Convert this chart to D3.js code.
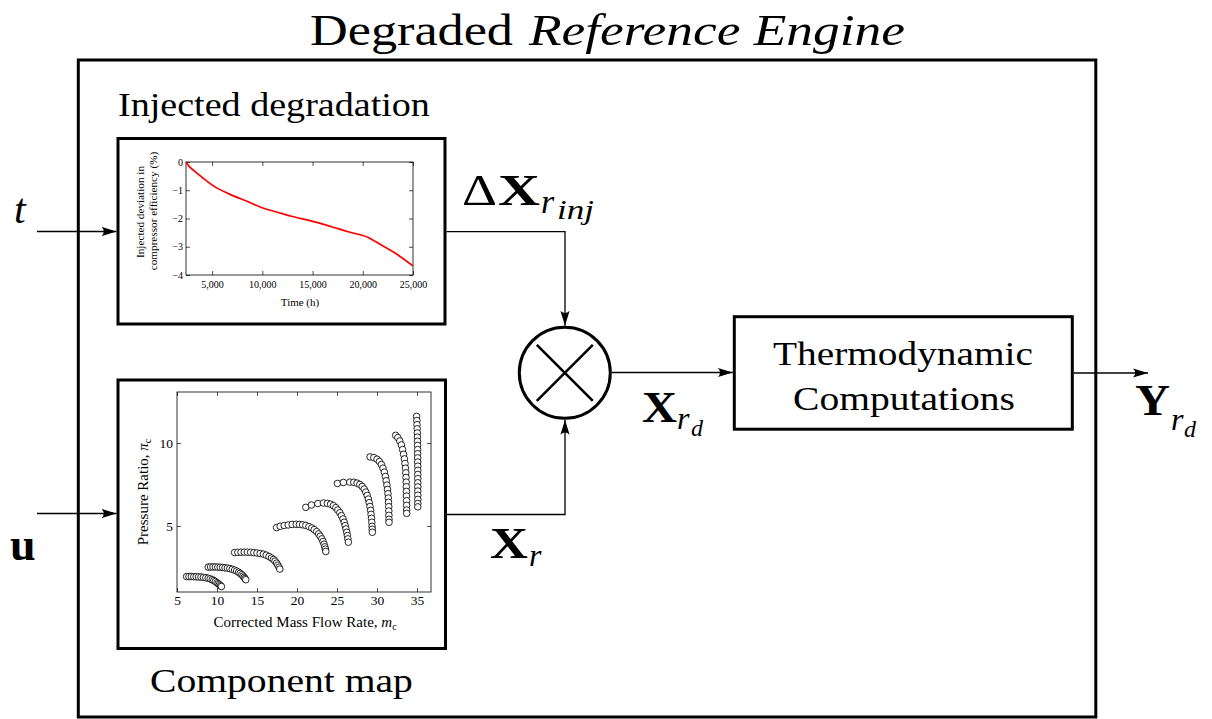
<!DOCTYPE html>
<html>
<head>
<meta charset="utf-8">
<script src="https://cdn.jsdelivr.net/npm/d3@7"></script>
<style>
  body { margin: 0; background: #fff; }
</style>
</head>
<body>
<svg width="1212" height="719"></svg>
<script>
// injected degradation curve (top inset)
var degTime  = [2400, 2630, 3130, 3960, 5280, 6610, 8600, 9920, 11910, 12900, 15220, 16880, 18540, 20530, 21850, 23510, 25000];
var degValue = [0, -0.12, -0.29, -0.53, -0.88, -1.12, -1.41, -1.61, -1.82, -1.92, -2.12, -2.29, -2.47, -2.67, -2.94, -3.29, -3.68];
var degXTicks = [5000, 10000, 15000, 20000, 25000];
var degYTicks = [0, -1, -2, -3, -4];

// component map, one array per speed line: [corrected mass flow, pressure ratio]
var speed1 = [[6.2,1.95],[6.5,1.95],[6.8,1.95],[7.1,1.94],[7.4,1.94],[7.7,1.93],[8.0,1.92],[8.3,1.9],[8.6,1.88],[8.9,1.85],[9.15,1.81],[9.4,1.76],[9.6,1.71],[9.8,1.65],[10.0,1.58],[10.15,1.52],[10.3,1.46],[10.45,1.4],[10.55,1.35]];
var speed2 = [[8.9,2.52],[9.2,2.53],[9.5,2.53],[9.8,2.53],[10.1,2.52],[10.4,2.51],[10.7,2.5],[11.0,2.48],[11.3,2.46],[11.6,2.43],[11.9,2.39],[12.2,2.34],[12.45,2.28],[12.7,2.21],[12.9,2.14],[13.1,2.06],[13.25,1.98],[13.4,1.9],[13.5,1.83],[13.6,1.76]];
var speed3 = [[12.2,3.4],[12.6,3.41],[13.0,3.42],[13.4,3.42],[13.8,3.42],[14.2,3.41],[14.6,3.39],[15.0,3.37],[15.4,3.34],[15.8,3.3],[16.15,3.24],[16.5,3.16],[16.8,3.07],[17.05,2.98],[17.25,2.88],[17.45,2.76],[17.6,2.64],[17.75,2.52],[17.85,2.4]];
var speed4 = [[17.45,4.9],[17.9,4.98],[18.4,5.03],[18.9,5.06],[19.4,5.09],[19.9,5.1],[20.3,5.09],[20.7,5.07],[21.1,5.03],[21.5,4.96],[21.85,4.88],[22.15,4.78],[22.45,4.66],[22.7,4.52],[22.9,4.38],[23.1,4.22],[23.25,4.06],[23.38,3.9],[23.48,3.74],[23.55,3.6],[23.6,3.46]];
var speed5 = [[21.1,6.12],[21.8,6.26],[22.6,6.35],[23.3,6.38],[23.8,6.36],[24.2,6.31],[24.55,6.22],[24.85,6.1],[25.1,5.96],[25.35,5.8],[25.55,5.62],[25.75,5.42],[25.9,5.22],[26.02,5.02],[26.12,4.82],[26.22,4.62],[26.3,4.42],[26.36,4.22],[26.42,4.02]];
var speed6 = [[25.05,7.56],[25.8,7.62],[26.6,7.64],[27.1,7.63],[27.5,7.58],[27.85,7.5],[28.15,7.38],[28.4,7.22],[28.6,7.04],[28.78,6.84],[28.92,6.62],[29.03,6.4],[29.12,6.17],[29.2,5.94],[29.26,5.7],[29.31,5.46],[29.35,5.22],[29.38,4.98],[29.4,4.8],[29.42,4.62]];
var speed7 = [[29.13,9.16],[29.6,9.12],[30.0,9.02],[30.3,8.88],[30.55,8.7],[30.75,8.48],[30.92,8.24],[31.05,7.98],[31.15,7.72],[31.24,7.46],[31.31,7.2],[31.37,6.94],[31.41,6.68],[31.44,6.42],[31.47,6.16],[31.48,5.9],[31.49,5.64],[31.5,5.4],[31.5,5.22]];
var speed8 = [[32.33,10.46],[32.6,10.32],[32.85,10.12],[33.05,9.88],[33.2,9.6],[33.32,9.32],[33.42,9.04],[33.5,8.76],[33.56,8.48],[33.6,8.2],[33.63,7.92],[33.65,7.64],[33.67,7.36],[33.68,7.08],[33.69,6.8],[33.7,6.52],[33.7,6.24],[33.71,5.96],[33.71,5.76]];
var speed9 = [[34.95,11.6],[34.98,11.35],[35.0,11.1],[35.02,10.85],[35.04,10.6],[35.05,10.35],[35.06,10.1],[35.07,9.85],[35.08,9.6],[35.08,9.35],[35.09,9.1],[35.09,8.85],[35.1,8.6],[35.1,8.35],[35.1,8.1],[35.1,7.85],[35.1,7.6],[35.1,7.35],[35.1,7.1],[35.1,6.85],[35.1,6.6],[35.1,6.35],[35.1,6.15]];
var speedLines = [speed1, speed2, speed3, speed4, speed5, speed6, speed7, speed8, speed9];
var mapXTicks = [5, 10, 15, 20, 25, 30, 35];
var mapYTicks = [5, 10];

var SERIF = "Liberation Serif, serif";
var svg = d3.select("svg");

// arrow head
svg.append("defs").append("marker")
  .attr("id", "arr")
  .attr("viewBox", "-15 -6 16 12")
  .attr("refX", 0).attr("refY", 0)
  .attr("markerWidth", 16).attr("markerHeight", 12)
  .attr("markerUnits", "userSpaceOnUse")
  .attr("orient", "auto")
  .append("path")
  .attr("d", "M0,0 L-15,-4.6 Q-10.5,0 -15,4.6 Z")
  .attr("fill", "#000");

function box(x0, y0, x1, y1, w) {
  svg.append("rect")
    .attr("x", x0).attr("y", y0)
    .attr("width", x1 - x0).attr("height", y1 - y0)
    .attr("fill", "none").attr("stroke", "#000").attr("stroke-width", w);
}

function arrow(pts) {
  svg.append("path")
    .attr("d", d3.line()(pts))
    .attr("fill", "none").attr("stroke", "#000").attr("stroke-width", 1.3)
    .attr("marker-end", "url(#arr)");
}

// text helper; opt.len stretches the glyphs horizontally to a given width
function label(txt, x, y, size, opt) {
  opt = opt || {};
  var t = svg.append("text")
    .attr("x", 0).attr("y", 0)
    .attr("transform", "translate(" + x + "," + y + ")")
    .attr("font-family", SERIF)
    .attr("font-size", size)
    .attr("font-style", opt.italic ? "italic" : "normal")
    .attr("font-weight", opt.bold ? "bold" : "normal")
    .attr("text-anchor", opt.anchor || "start")
    .attr("fill", "#000")
    .text(txt);
  if (opt.len) {
    var w = t.node().getComputedTextLength();
    t.attr("transform", "translate(" + x + "," + y + ") scale(" + (opt.len / w) + ",1)");
  }
  return t;
}

// boxes
box(78.3, 60, 1095.8, 717, 3);
box(118, 138.5, 445, 324, 3);
box(118, 380, 445.5, 648.5, 3);
box(734.3, 316.7, 1072.3, 429.2, 3);

// multiplier node
var cx = 564.8, cy = 372.8, cr = 45.5;
svg.append("circle").attr("cx", cx).attr("cy", cy).attr("r", cr)
  .attr("fill", "none").attr("stroke", "#000").attr("stroke-width", 3);
svg.append("path")
  .attr("d", "M" + (cx - 28) + "," + (cy - 28) + "L" + (cx + 28) + "," + (cy + 28) +
             "M" + (cx + 28) + "," + (cy - 28) + "L" + (cx - 28) + "," + (cy + 28))
  .attr("stroke", "#000").attr("stroke-width", 2.6);

// connections
arrow([[37, 231.5], [116.5, 231.5]]);
arrow([[37, 513.5], [116.5, 513.5]]);
arrow([[446.5, 231.7], [565, 231.7], [565, 325.8]]);
arrow([[447, 514.5], [565, 514.5], [565, 419.8]]);
arrow([[612, 372.5], [732.8, 372.5]]);
arrow([[1073.8, 373], [1148, 373]]);

// titles
label("Degraded", 310, 45, 44, {len: 203});
label("Reference Engine", 529, 45, 44, {italic: true, len: 376});
label("Injected degradation", 118, 116, 34, {len: 312});
label("Component map", 150, 692, 34, {len: 263});
label("Thermodynamic", 773, 365, 34, {len: 260});
label("Computations", 793, 410, 34, {len: 222});

// signals
label("t", 14, 223, 42, {italic: true});
label("u", 10, 560, 46, {bold: true});
label("\u0394", 462, 205, 44, {len: 35});
label("X", 498, 205, 44, {bold: true, len: 42});
label("r", 541, 213, 34, {italic: true});
label("inj", 557, 219, 28, {italic: true, len: 37});
label("X", 642, 422, 44, {bold: true, len: 35});
label("r", 677, 429, 32, {italic: true});
label("d", 691, 436, 24, {italic: true});
label("X", 490, 558, 44, {bold: true, len: 38});
label("r", 529, 566, 32, {italic: true});
label("Y", 1135, 415, 44, {bold: true, len: 35});
label("r", 1171, 430, 32, {italic: true});
label("d", 1184, 437, 24, {italic: true});

// ---- inset axes helper ----
function insetAxes(xs, ys, xt, yt, xfmt, fs, padX, padY) {
  var x0 = xs.range()[0], x1 = xs.range()[1], y0 = ys.range()[0], y1 = ys.range()[1];
  var axes = [
    [d3.axisBottom(xs).tickValues(xt).tickFormat(xfmt), 0, y0, padX],
    [d3.axisTop(xs).tickValues(xt).tickFormat(""), 0, y1, 0],
    [d3.axisLeft(ys).tickValues(yt).tickFormat(d3.format("d")), x0, 0, padY],
    [d3.axisRight(ys).tickValues(yt).tickFormat(""), x1, 0, 0]
  ];
  axes.forEach(function (a) {
    var g = svg.append("g")
      .attr("transform", "translate(" + a[1] + "," + a[2] + ")")
      .call(a[0].tickSize(-4).tickPadding(a[3]));
    g.select(".domain").remove();
    g.selectAll("line").attr("stroke-width", 0.7);
    g.attr("font-family", SERIF).attr("font-size", fs);
  });
  svg.append("rect")
    .attr("x", x0).attr("y", y1).attr("width", x1 - x0).attr("height", y0 - y1)
    .attr("fill", "none").attr("stroke", "#000").attr("stroke-width", 0.8);
}

function rotLabel(txt, x, y, size) {
  return svg.append("text").attr("transform", "translate(" + x + "," + y + ") rotate(-90)")
    .attr("text-anchor", "middle")
    .attr("font-family", SERIF).attr("font-size", size)
    .text(txt);
}

// ---- top inset: injected degradation ----
var dx = d3.scaleLinear().domain([2400, 25000]).range([186, 413]);
var dy = d3.scaleLinear().domain([-4, 0]).range([275, 162]);

insetAxes(dx, dy, degXTicks, degYTicks, d3.format(","), 10, 5.5, 3);

svg.append("path")
  .datum(degTime.map(function (t, i) { return [t, degValue[i]]; }))
  .attr("d", d3.line().x(function (d) { return dx(d[0]); }).y(function (d) { return dy(d[1]); }).curve(d3.curveMonotoneX))
  .attr("fill", "none").attr("stroke", "#ff0000").attr("stroke-width", 1.7);

label("Time (h)", 300, 306, 11, {anchor: "middle"});
rotLabel("Injected deviation in", 144, 212, 11.2);
rotLabel("compressor efficiency (%)", 156.5, 211, 11.2);

// ---- bottom inset: component map ----
var mx = d3.scaleLinear().domain([5, 36.75]).range([177, 431]);
var my = d3.scaleLinear().domain([1.02, 13.07]).range([592, 392]);

insetAxes(mx, my, mapXTicks, mapYTicks, d3.format("d"), 13.5, 3.5, 4);

var pts = svg.append("g");
speedLines.forEach(function (line) {
  pts.selectAll(null).data(line).enter().append("circle")
    .attr("cx", function (d) { return mx(d[0]); })
    .attr("cy", function (d) { return my(d[1]); })
    .attr("r", 3.3)
    .attr("fill", "#fff").attr("stroke", "#000").attr("stroke-width", 0.85);
});

var xl = label("Corrected Mass Flow Rate, ", 305, 627, 15, {anchor: "middle"});
xl.append("tspan").attr("font-style", "italic").text("m");
xl.append("tspan").attr("font-size", 10).attr("dy", 3).text("c");

var yl = rotLabel("Pressure Ratio, ", 148, 492, 15);
yl.append("tspan").attr("font-style", "italic").text("\u03c0");
yl.append("tspan").attr("font-size", 10).attr("dy", 3).text("c");
</script>
</body>
</html>
